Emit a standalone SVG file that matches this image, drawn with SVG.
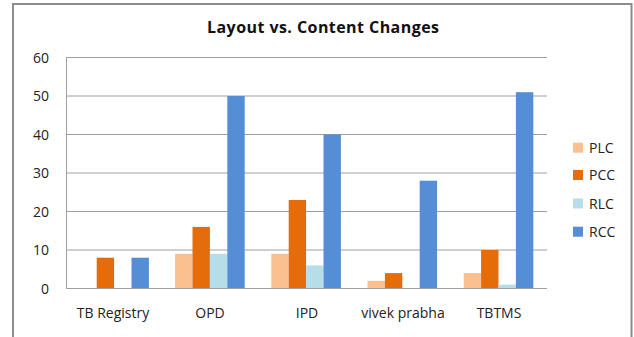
<svg xmlns="http://www.w3.org/2000/svg" width="634" height="337" viewBox="0 0 634 337">
  <style>
    .frame { fill: none; stroke: #8c8c8c; }
    .grid { stroke: #a0a0a0; stroke-width: 1; }
    .axis { fill: #222; font-family: "Open Sans", "Liberation Sans", sans-serif; font-size: 14px; }
    .title { fill: #111; font-family: "Open Sans", "Liberation Sans", sans-serif; font-size: 16px; font-weight: bold; }
    .plc { fill: #fac090; }
    .pcc { fill: #e46c0a; }
    .rlc { fill: #b7dee8; }
    .rcc { fill: #558ed5; }
  </style>
  <rect width="634" height="337" fill="#ffffff"/>

  <!-- chart frame (open at the bottom) -->
  <path class="frame" d="M13,337 V4 H631.5 V337" stroke-width="2"/>

  <text class="title" x="323" y="33" text-anchor="middle" textLength="232">Layout vs. Content Changes</text>

  <!-- gridlines and value axis -->
  <g id="grid">
    <line class="grid" x1="66" y1="57.5" x2="547" y2="57.5"/>
    <line class="grid" x1="66" y1="96" x2="547" y2="96"/>
    <line class="grid" x1="66" y1="134.5" x2="547" y2="134.5"/>
    <line class="grid" x1="66" y1="173" x2="547" y2="173"/>
    <line class="grid" x1="66" y1="211.5" x2="547" y2="211.5"/>
    <line class="grid" x1="66" y1="250" x2="547" y2="250"/>
    <line class="grid" x1="66.5" y1="57.5" x2="66.5" y2="288.5"/>
  </g>
  <g id="value-axis" class="axis" text-anchor="end">
    <text x="49" y="62.5">60</text>
    <text x="49" y="101">50</text>
    <text x="49" y="139.5">40</text>
    <text x="49" y="178">30</text>
    <text x="49" y="216.5">20</text>
    <text x="49" y="255">10</text>
    <text x="49" y="293.5">0</text>
  </g>

  <!-- bars: 3.85 px per unit, zero at y=288.5 -->
  <g id="tb-registry">
    <rect class="pcc" x="96.7" y="257.7" width="17.4" height="30.8"/>
    <rect class="rcc" x="131.5" y="257.7" width="17.4" height="30.8"/>
  </g>
  <g id="opd">
    <rect class="plc" x="175.1" y="253.8" width="17.4" height="34.7"/>
    <rect class="pcc" x="192.5" y="226.9" width="17.4" height="61.6"/>
    <rect class="rlc" x="209.9" y="253.8" width="17.4" height="34.7"/>
    <rect class="rcc" x="227.3" y="96" width="17.4" height="192.5"/>
  </g>
  <g id="ipd">
    <rect class="plc" x="271.3" y="253.8" width="17.4" height="34.7"/>
    <rect class="pcc" x="288.7" y="200" width="17.4" height="88.5"/>
    <rect class="rlc" x="306.1" y="265.4" width="17.4" height="23.1"/>
    <rect class="rcc" x="323.5" y="134.5" width="17.4" height="154"/>
  </g>
  <g id="vivek-prabha">
    <rect class="plc" x="367.5" y="280.8" width="17.4" height="7.7"/>
    <rect class="pcc" x="384.9" y="273.1" width="17.4" height="15.4"/>
    <rect class="rcc" x="419.7" y="180.7" width="17.4" height="107.8"/>
  </g>
  <g id="tbtms">
    <rect class="plc" x="463.7" y="273.1" width="17.4" height="15.4"/>
    <rect class="pcc" x="481.1" y="250" width="17.4" height="38.5"/>
    <rect class="rlc" x="498.5" y="284.6" width="17.4" height="3.9"/>
    <rect class="rcc" x="515.9" y="92.2" width="17.4" height="196.3"/>
  </g>

  <!-- category axis -->
  <line class="grid" x1="66" y1="288.5" x2="547" y2="288.5"/>
  <g id="category-axis" class="axis" text-anchor="middle">
    <text x="113" y="318">TB Registry</text>
    <text x="210" y="318">OPD</text>
    <text x="307" y="318">IPD</text>
    <text x="403" y="318">vivek prabha</text>
    <text x="499" y="318">TBTMS</text>
  </g>

  <!-- legend -->
  <g id="legend" class="axis">
    <rect class="plc" x="573" y="142.7" width="10" height="10"/>
    <text x="589" y="152.7">PLC</text>
    <rect class="pcc" x="573" y="170" width="10" height="10"/>
    <text x="589" y="180">PCC</text>
    <rect class="rlc" x="573" y="198.5" width="10" height="10"/>
    <text x="589" y="208.5">RLC</text>
    <rect class="rcc" x="573" y="226.7" width="10" height="10"/>
    <text x="589" y="236.7">RCC</text>
  </g>
</svg>
